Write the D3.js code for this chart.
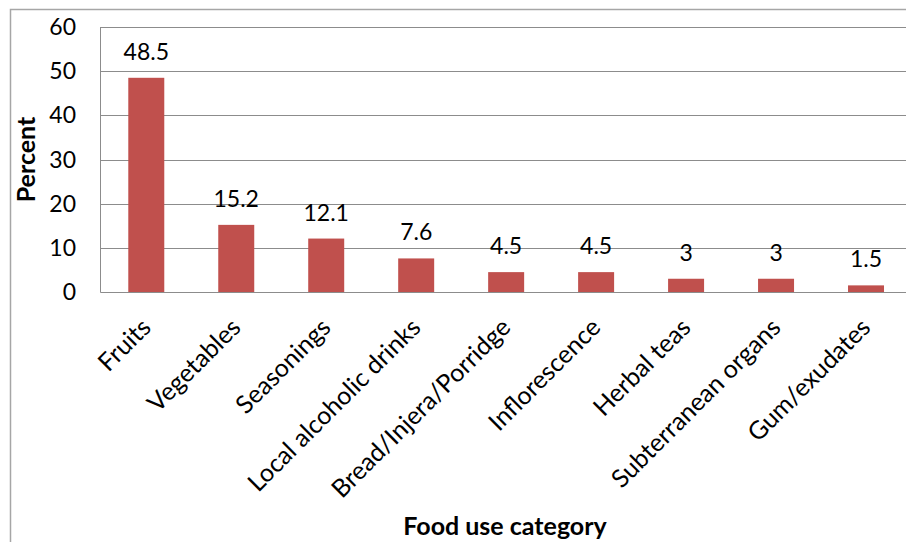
<!DOCTYPE html>
<html><head><meta charset="utf-8">
<script src="https://cdn.jsdelivr.net/npm/d3@7/dist/d3.min.js"></script>
<style>body{margin:0;background:#fff}svg{display:block}text{font-family:Lato,"Open Sans",sans-serif;fill:#000}</style>
</head><body>
<svg id="c" width="906" height="542"></svg>
<script>
const categories = ["Fruits","Vegetables","Seasonings","Local alcoholic drinks","Bread/Injera/Porridge","Inflorescence","Herbal teas","Subterranean organs","Gum/exudates"];
const values = [48.5,15.2,12.1,7.6,4.5,4.5,3,3,1.5];
const valueLabels = ["48.5","15.2","12.1","7.6","4.5","4.5","3","3","1.5"];
const yTicks = [0,10,20,30,40,50,60];

const svg = d3.select("#c");
const L = 100.5, R = 911, T = 27, B = 292;
const x = d3.scaleBand().domain(categories).range([L + 0.8, R]).paddingInner(0.6).paddingOuter(0.3);
const y = d3.scaleLinear().domain([0, 60]).range([B, T]);

// outer border
svg.append("rect").attr("x",10.5).attr("y",9.5).attr("width",920).attr("height",560)
  .attr("fill","none").attr("stroke","#a6a6a6").attr("stroke-width",1.5);

// gridlines
svg.append("g").selectAll("line").data(yTicks.filter(d=>d>0)).join("line")
  .attr("x1",L).attr("x2",R).attr("y1",d=>Math.round(y(d))+0.5).attr("y2",d=>Math.round(y(d))+0.5)
  .attr("stroke","#8c8c8c").attr("stroke-width",1);

// bars
svg.append("g").selectAll("rect").data(values).join("rect")
  .attr("x",(d,i)=>x(categories[i])).attr("width",x.bandwidth())
  .attr("y",d=>y(d)).attr("height",d=>B-y(d)).attr("fill","#c0504d");

// axes lines
svg.append("line").attr("x1",L).attr("x2",L).attr("y1",T).attr("y2",B+0.5).attr("stroke","#8c8c8c");
svg.append("line").attr("x1",L).attr("x2",R).attr("y1",B+0.5).attr("y2",B+0.5).attr("stroke","#8c8c8c");

// y tick labels
svg.append("g").selectAll("text").data(yTicks).join("text")
  .attr("x",76).attr("y",d=>y(d)).attr("dy","0.35em").attr("text-anchor","end")
  .attr("font-size",23).text(d=>d);

// data labels
svg.append("g").selectAll("text").data(values).join("text")
  .attr("x",(d,i)=>x(categories[i])+x.bandwidth()/2).attr("y",d=>y(d)-18)
  .attr("text-anchor","middle").attr("font-size",23).text((d,i)=>valueLabels[i]);

// category labels
svg.append("g").selectAll("text").data(categories).join("text")
  .attr("transform",d=>`translate(${x(d)+x.bandwidth()/2+6},${B+37}) rotate(-45)`)
  .attr("text-anchor","end").attr("font-size",25).text(d=>d);

// axis titles
svg.append("text").attr("transform",`translate(35,${(T+B)/2}) rotate(-90)`)
  .attr("text-anchor","middle").attr("font-size",25).attr("font-weight","bold").text("Percent");
svg.append("text").attr("x",505).attr("y",535).attr("text-anchor","middle")
  .attr("font-size",25).attr("font-weight","bold").text("Food use category");
</script>
</body></html>
